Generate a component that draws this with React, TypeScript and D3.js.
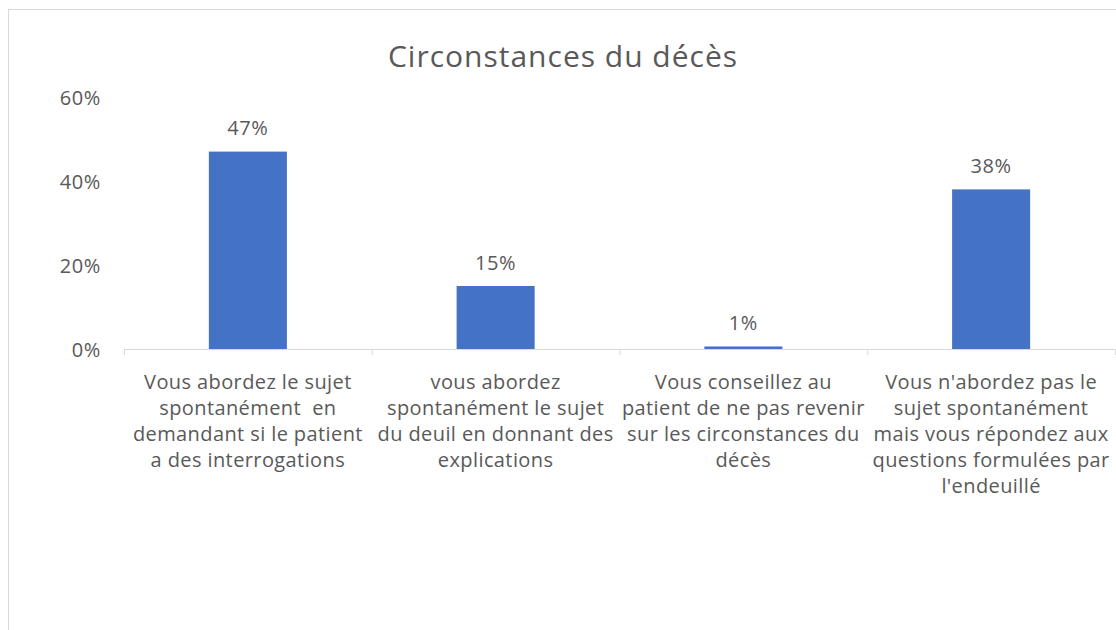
import React from "react";
import * as d3 from "d3";

const title = "Circonstances du décès";
const categories: string[][] = [
  ["Vous abordez le sujet", "spontanément  en", "demandant si le patient", "a des interrogations"],
  ["vous abordez", "spontanément le sujet", "du deuil en donnant des", "explications"],
  ["Vous conseillez au", "patient de ne pas revenir", "sur les circonstances du", "décès"],
  ["Vous n'abordez pas le", "sujet spontanément", "mais vous répondez aux", "questions formulées par", "l'endeuillé"],
];
const values = [0.47, 0.15, 0.006, 0.38];
const yTicks = [0, 0.2, 0.4, 0.6];

const W = 1116;
const H = 630;
const FONT = "'Open Sans', 'Noto Sans', sans-serif";
const TEXT = "#595959";

export default function App() {
  const left = 124;
  const right = 1115;
  const baseY = 349;
  const topY = 97;
  const x = d3.scaleBand<number>().domain(d3.range(values.length)).range([left, right]).paddingInner(0.685).paddingOuter(0.3425);
  const xc = d3.scaleBand<number>().domain(d3.range(values.length)).range([left, right]);
  const y = d3.scaleLinear().domain([0, 0.6]).range([baseY, topY]);
  const fmt = d3.format(".0%");
  const boundaries = d3.range(values.length + 1).map((i) => left + i * xc.step());

  return (
    <svg width={W} height={H} style={{ position: "absolute", left: 0, top: 0, display: "block" }} fontFamily={FONT}>
      <rect x={0} y={0} width={W} height={H} fill="#ffffff" />
      <rect x={8.5} y={9.5} width={W + 20} height={H + 20} fill="#ffffff" stroke="#d9d9d9" strokeWidth={1} />
      <text x={563} y={55} textAnchor="middle" dominantBaseline="central" fontSize={30} letterSpacing={1} fill={TEXT}>
        {title}
      </text>
      {yTicks.map((t) => (
        <text key={t} x={101} y={y(t)} textAnchor="end" dominantBaseline="central" fontSize={20} letterSpacing={0.6} fill={TEXT}>
          {fmt(t)}
        </text>
      ))}
      {values.map((v, i) => (
        <rect key={i} x={x(i)} y={y(v)} width={x.bandwidth()} height={baseY - y(v)} fill="#4472c4" />
      ))}
      <line x1={left} x2={right} y1={baseY + 0.5} y2={baseY + 0.5} stroke="#d9d9d9" strokeWidth={1} />
      {boundaries.map((bx, i) => (
        <line key={i} x1={bx + 0.5} x2={bx + 0.5} y1={baseY} y2={baseY + 6} stroke="#d9d9d9" strokeWidth={1} />
      ))}
      {values.map((v, i) => (
        <text key={i} x={(x(i) as number) + x.bandwidth() / 2} y={y(v) - 24} textAnchor="middle" dominantBaseline="central" fontSize={20} letterSpacing={0.6} fill={TEXT}>
          {fmt(v)}
        </text>
      ))}
      {categories.map((lines, i) => (
        <text key={i} textAnchor="middle" fontSize={20} letterSpacing={0.4} fill={TEXT} style={{ whiteSpace: "pre" }}>
          {lines.map((l, j) => (
            <tspan key={j} x={(xc(i) as number) + xc.bandwidth() / 2} y={381 + j * 26} dominantBaseline="central">
              {l}
            </tspan>
          ))}
        </text>
      ))}
    </svg>
  );
}
